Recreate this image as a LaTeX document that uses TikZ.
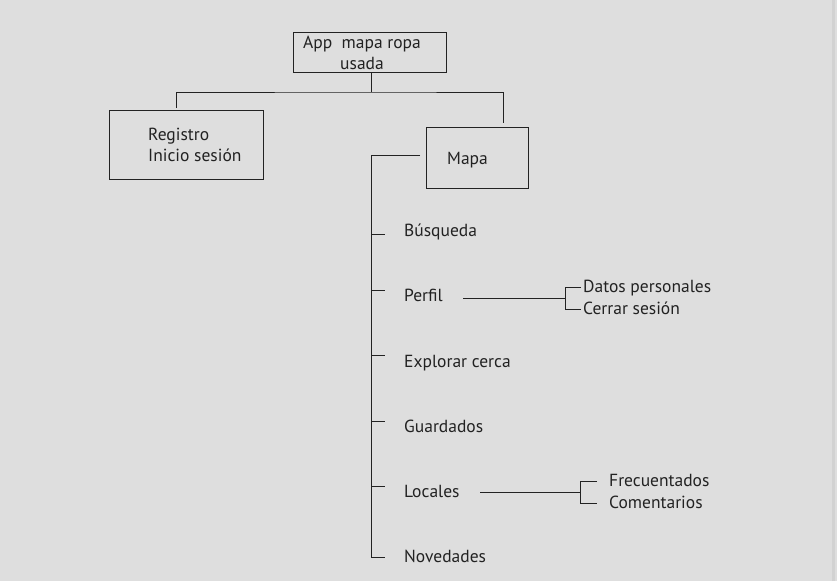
\documentclass[tikz,border=0pt]{standalone}
\usepackage{fontspec}
\setmainfont{PT Sans}
\definecolor{bggray}{HTML}{DEDEDE}
\definecolor{edgegray}{HTML}{D2D2D2}
\definecolor{inkgray}{HTML}{222222}
\tikzset{
  box/.style={draw=inkgray, line width=1pt, inner sep=0},
  lbl/.style={inner sep=0, text=inkgray, font=\fontsize{17.5}{21}\selectfont},
  wire/.style={draw=inkgray, line width=1pt}
}
\begin{document}
\begin{tikzpicture}[x=1pt,y=-1pt]
                \newcommand{\trunkx}{371}
                \newcommand{\itemx}{404}
                \newcommand{\stublen}{14}

                % Draw background
                \fill[bggray] (0,0) rectangle (837,581);
                \fill[edgegray] (832,0) rectangle (834.5,581);

                % Draw boxes
                \node[box, minimum width=153, minimum height=40] (app) at (369.5,52) {};
                \node[lbl, align=center] (apptxt) at (362,53) {App~ mapa ropa\\usada};
                \node[box, minimum width=154, minimum height=69] (reg) at (186,144.5) {};
                \node[lbl, align=left, anchor=west] (regtxt) at (148,145) {Registro\\Inicio sesión};
                \node[box, minimum width=102, minimum height=61] (map) at (477,157.5) {};
                \node[lbl, anchor=base west] (maptxt) at (447,164) {Mapa};

                % Draw top split
                \coordinate (split) at (371,92);
                \coordinate (regtop) at (176,108);
                \coordinate (maptop) at (503,123);
                \draw[wire] (app.south -| split) -- (split);
                \draw[wire] (regtop) |- (split) -| (maptop);

                % Draw trunk
                \coordinate (trunktop) at (\trunkx,155);
                \coordinate (trunkend) at (\trunkx,557);
                \coordinate (mapleft) at (420,155);
                \draw[wire] (mapleft) -- (trunktop) -- (trunkend) -- ++(\stublen,0);

                % Draw items (base line, stub)
                \foreach \name/\txt/\ty/\sy in {busq/Búsqueda/236/234, perf/Perfil/301/290, expl/Explorar cerca/367/355, guar/Guardados/432/421, loc/Locales/497/486} {
                    \node[lbl, anchor=base west] (\name) at (\itemx,\ty) {\txt};
                    \coordinate (\name stub) at (\trunkx,\sy);
                    \draw[wire] (\name stub) -- ++(\stublen,0);
                }
                \node[lbl, anchor=base west] (nove) at (\itemx,562) {Novedades};

                % Draw Perfil branch
                \coordinate (perfout) at (463,298);
                \coordinate (perfjoin) at (565,298);
                \draw[wire] (perfout) -- (perfjoin);
                \draw[wire] (581,287) -| (565,309) -- (581,309);
                \node[lbl, anchor=base west] (datos) at (583,292) {Datos personales};
                \node[lbl, anchor=base west] (cerrar) at (583,314) {Cerrar sesión};

                % Draw Locales branch
                \coordinate (locout) at (480,492);
                \coordinate (locjoin) at (580,492);
                \draw[wire] (locout) -- (locjoin);
                \draw[wire] (597,481) -| (580,503) -- (597,503);
                \node[lbl, anchor=base west] (frec) at (609,486) {Frecuentados};
                \node[lbl, anchor=base west] (coment) at (609,508) {Comentarios};
            \end{tikzpicture}
\end{document}
